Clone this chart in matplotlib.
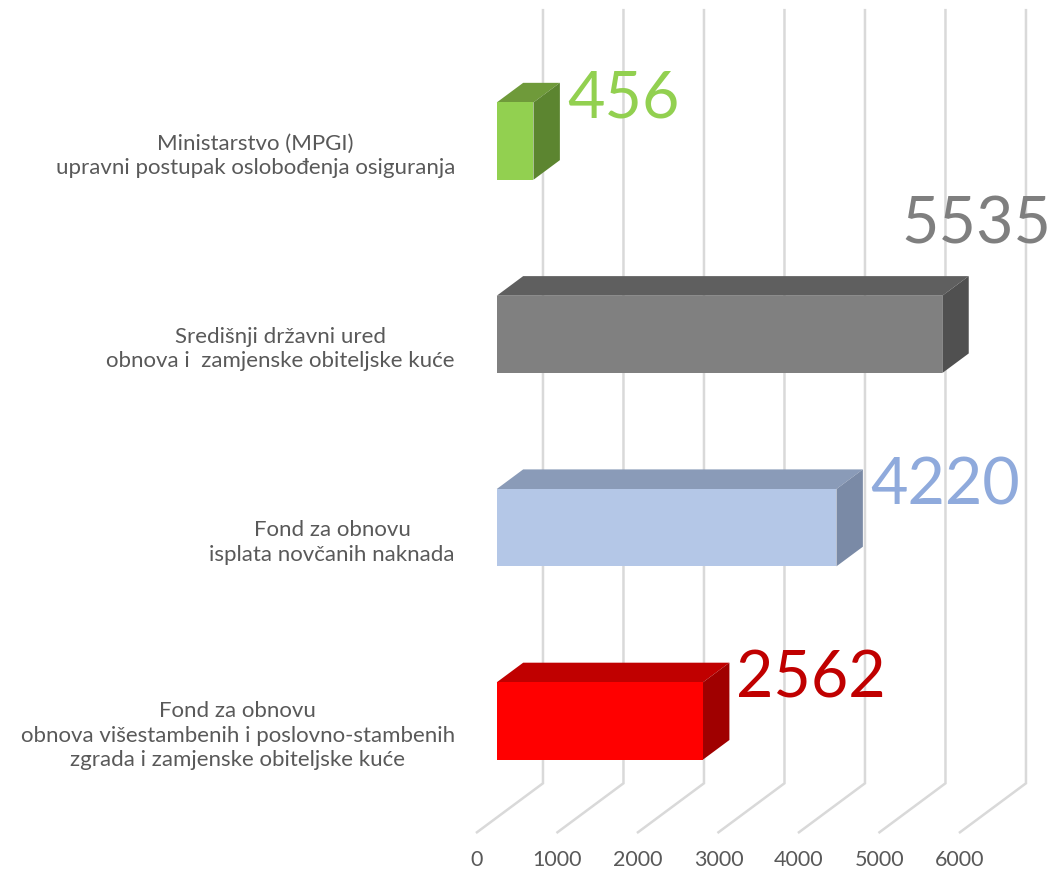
import matplotlib.pyplot as plt
from matplotlib.patches import Polygon

# data (bottom to top)
categories = [
    "Fond za obnovu\nobnova višestambenih i poslovno-stambenih\nzgrada i zamjenske obiteljske kuće",
    "Fond za obnovu\nisplata novčanih naknada",
    "Središnji državni ured\nobnova i  zamjenske obiteljske kuće",
    "Ministarstvo (MPGI)\nupravni postupak oslobođenja osiguranja",
]
values = [2562, 4220, 5535, 456]
ticks = [0, 1000, 2000, 3000, 4000, 5000, 6000]

front_colors = ["#FF0000", "#B4C7E7", "#808080", "#92D050"]
top_colors = ["#C00000", "#8A9BB8", "#5F5F5F", "#6F9A3A"]
side_colors = ["#A00000", "#7A8AA6", "#505050", "#5C8530"]
label_colors = ["#C00000", "#8FAADC", "#7F7F7F", "#92D050"]

# oblique projection of the 3d box (depth d from 0 to 1)
DX = 820.0   # depth offset in value units
DY = 0.2535  # depth offset in category units
d0, d1 = 0.3, 0.7
half = 0.2


def proj(v, c, d):
    return (v + d * DX, c + d * DY)


plt.rcParams['font.family'] = ['Lato', 'DejaVu Sans']
fig = plt.figure(figsize=(10.56, 8.75), dpi=100)
ax = fig.add_axes([0, 0, 1, 1])
ax.set_xlim(-5925, 7193)
ax.set_ylim(-0.721, 3.806)
ax.axis('off')

grid_c = '#D9D9D9'
for t in ticks:
    a = proj(t, -0.5, 0)
    b = proj(t, -0.5, 1)
    c = proj(t, 3.5, 1)
    ax.plot([a[0], b[0], c[0]], [a[1], b[1], c[1]], color=grid_c, lw=1.8,
            solid_joinstyle='miter', zorder=1)
    ax.text(a[0], -0.643, str(t), ha='center', va='center', fontsize=15.5,
            color='#595959')

for i, (cat, val) in enumerate(zip(categories, values)):
    lo, hi = i - half, i + half
    front = [proj(0, lo, d0), proj(val, lo, d0), proj(val, hi, d0), proj(0, hi, d0)]
    top = [proj(0, hi, d0), proj(val, hi, d0), proj(val, hi, d1), proj(0, hi, d1)]
    side = [proj(val, lo, d0), proj(val, hi, d0), proj(val, hi, d1), proj(val, lo, d1)]
    ax.add_patch(Polygon(top, closed=True, fc=top_colors[i], ec='none', zorder=3))
    ax.add_patch(Polygon(side, closed=True, fc=side_colors[i], ec='none', zorder=3))
    ax.add_patch(Polygon(front, closed=True, fc=front_colors[i], ec='none', zorder=4))

    ax.text(-273, i, cat, ha='right', va='center', multialignment='center',
            fontsize=16, color='#595959', linespacing=1.3)

    lx, ly = proj(val, hi, d1)
    if val > 5000:
        # does not fit on the right, goes above the bar
        ax.text(7140, i + 0.668, str(val), ha='right', va='center_baseline',
                fontsize=46.5, color=label_colors[i])
    else:
        ax.text(lx + 85, ly - 0.057, str(val), ha='left', va='center_baseline',
                fontsize=46.5, color=label_colors[i])

fig.savefig('out.png', dpi=100)
